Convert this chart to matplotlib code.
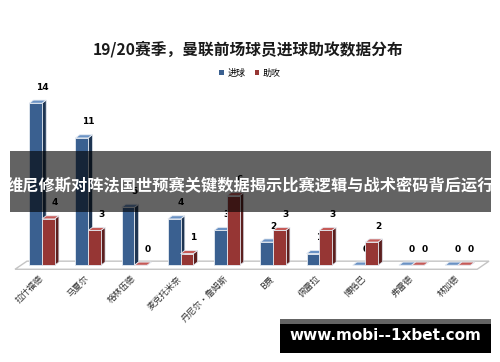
import matplotlib
matplotlib.use("Agg")
import matplotlib.pyplot as plt
from matplotlib.patches import Polygon, Rectangle, Patch

plt.rcParams['font.family'] = ['Noto Sans CJK SC', 'DejaVu Sans']

players = ['拉什福德', '马夏尔', '格林伍德', '麦克托米奈', '丹尼尔·詹姆斯', 'B费', '佩雷拉', '博格巴', '弗雷德', '林加德']
goals = [14, 11, 5, 4, 3, 2, 1, 0, 0, 0]
assists = [4, 3, 0, 1, 6, 3, 3, 2, 0, 0]
series_names = ['进球', '助攻']
title = '19/20赛季，曼联前场球员进球助攻数据分布'
banner = '维尼修斯对阵法国世预赛关键数据揭示比赛逻辑与战术密码背后运行'
site = 'www.mobi--1xbet.com'

styles = [
    dict(front='#3a6090', top='#6a92c4', side='#1e3552'),
    dict(front='#963634', top='#c65a57', side='#5c1f1e'),
]

fig = plt.figure(figsize=(5.0, 3.62), dpi=100)
ax = fig.add_axes([0.0, 0.2514, 1.0, 0.5274])
ax.set_xlim(-0.909, 9.913)
ax.set_ylim(-0.5, 16)
ax.axis('off')

w = 0.275
dx = 0.09
dy = 0.27

# floor
floor = Polygon([(-0.584, -0.35), (9.42, -0.35), (9.675, 0.35), (-0.325, 0.35)],
                closed=True, facecolor='white', edgecolor='#c4c4c4', lw=1.0, zorder=1)
ax.add_patch(floor)

z = 2
for i in range(len(players)):
    for s, vals in enumerate([goals, assists]):
        v = vals[i]
        st = styles[s]
        xc = i + (s - 0.5) * w
        xl, xr = xc - w / 2, xc + w / 2
        side = Polygon([(xr, 0), (xr + dx, dy), (xr + dx, v + dy), (xr, v)], closed=True,
                       facecolor=st['side'], edgecolor='#d8dde6', lw=0.5, zorder=z)
        top = Polygon([(xl, v), (xr, v), (xr + dx, v + dy), (xl + dx, v + dy)], closed=True,
                      facecolor=st['top'], edgecolor='#e6ebf2', lw=0.6, zorder=z + 0.1)
        ax.add_patch(side)
        ax.add_patch(top)
        if v > 0:
            ax.bar(xc, v, width=w, bottom=0, color=st['front'], edgecolor='#e6ebf2',
                   lw=0.6, zorder=z + 0.2)
        ax.text(xc + 0.14, v + 1.38, str(v), ha='center', va='center', fontsize=6.5,
                fontweight='bold', color='black', family='DejaVu Sans', zorder=z + 0.3)
        z += 1

# category labels
for i, name in enumerate(players):
    ax.text(i - 0.08, -0.75, name, rotation=45, ha='right', va='top', rotation_mode='anchor',
            fontsize=6.3, color='#333333', zorder=50)

fig.text(0.496, 0.865, title, ha='center', va='center', fontsize=11.3, fontweight='bold',
         color='#1a1a1a')

handles = [Patch(facecolor=styles[0]['front']), Patch(facecolor=styles[1]['front'])]
fig.legend(handles, series_names, loc='center', bbox_to_anchor=(0.5, 0.798), ncol=2,
           frameon=False, fontsize=6.5, handlelength=0.5, handleheight=0.5,
           handletextpad=0.4, columnspacing=1.0)

# overlay banner
fig.add_artist(Rectangle((0.02, 0.4144), 0.962, 0.1685, transform=fig.transFigure,
                         facecolor='black', alpha=0.61, edgecolor='none', zorder=10))
fig.text(0.5, 1 - 186 / 362, banner, ha='center', va='center', fontsize=11.7,
         fontweight='bold', color='white', zorder=11)

# bottom site box
fig.add_artist(Rectangle((280 / 500, 1 - 353 / 362), 211 / 500, 34 / 362,
                         transform=fig.transFigure, facecolor='#646464', edgecolor='none', zorder=10))
fig.add_artist(Rectangle((280 / 500, 1 - 353 / 362), 211 / 500, 29 / 362,
                         transform=fig.transFigure, facecolor='black', edgecolor='none', zorder=11))
fig.text(385 / 500, 1 - 336 / 362, site, ha='center', va='center', fontsize=11,
         fontweight='bold', color='white', family='DejaVu Sans', zorder=12)

fig.savefig('out.png', dpi=100, facecolor='white')
